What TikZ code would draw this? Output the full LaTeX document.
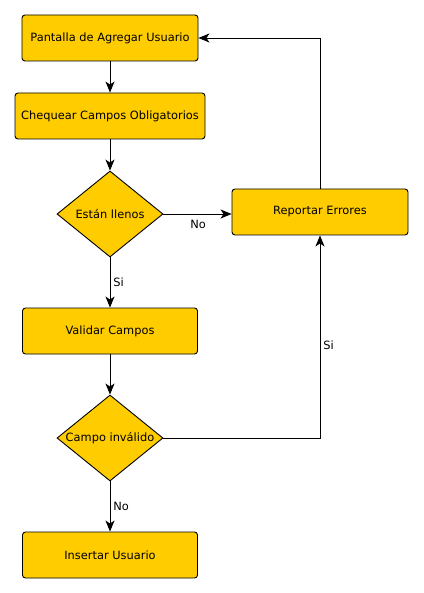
\documentclass[tikz,border=0pt]{standalone}
\usepackage{fontspec}
\setmainfont{DejaVu Sans}
\usepackage{xcolor}
\usepackage{tikz}
\usetikzlibrary{arrows.meta,shapes.geometric}
\definecolor{amarillo}{HTML}{FFCC00}

\tikzset{
    paso/.style={draw, fill=amarillo, rounded corners=3pt, line width=0.9pt,
        minimum width=176pt, minimum height=46pt, inner sep=0pt},
    decision/.style={diamond, draw, fill=amarillo, line width=0.9pt,
        minimum width=106pt, minimum height=86pt, inner sep=0pt},
    flujo/.style={-{Stealth[length=11pt,width=9pt,inset=3pt]}, line width=0.9pt},
    etiqueta/.style={font=\fontsize{11.4}{13}\selectfont, inner sep=3pt}
}

\begin{document}
\begin{tikzpicture}[x=1pt, y=-1pt, font=\fontsize{11.4}{13}\selectfont]
    \useasboundingbox (0,0) rectangle (423,593);

    % Columna izquierda
    \node[paso] (pantalla) at (110,38) {Pantalla de Agregar Usuario};
    \node[paso, minimum width=190pt] (chequear) at (110,116) {Chequear Campos Obligatorios};
    \node[decision, label=center:{Están llenos}] (llenos) at (110,214) {};
    \node[paso, minimum width=175pt] (validar) at (110,331) {Validar Campos};
    \node[decision, label=center:{Campo inválido}] (invalido) at (110,438) {};
    \node[paso, minimum width=175pt] (insertar) at (110,555) {Insertar Usuario};

    % Columna derecha
    \node[paso] (reportar) at (320,212) {Reportar Errores};

    % Flujo principal
    \draw[flujo] (pantalla) -- (chequear);
    \draw[flujo] (chequear) -- (llenos);
    \draw[flujo] (llenos) -- node[etiqueta, right] {Si} (validar);
    \draw[flujo] (validar) -- (invalido);
    \draw[flujo] (invalido) -- node[etiqueta, right] {No} (insertar);

    % Errores
    \draw[flujo] (llenos.east) -- node[etiqueta, below, pos=0.51, yshift=-3pt] {No} (reportar.west |- llenos.east);
    \draw[flujo] (invalido.east) -| node[etiqueta, right, pos=0.74, yshift=-4pt] {Si} (reportar.south);
    \draw[flujo] (reportar.north) |- (pantalla.east);
\end{tikzpicture}
\end{document}
